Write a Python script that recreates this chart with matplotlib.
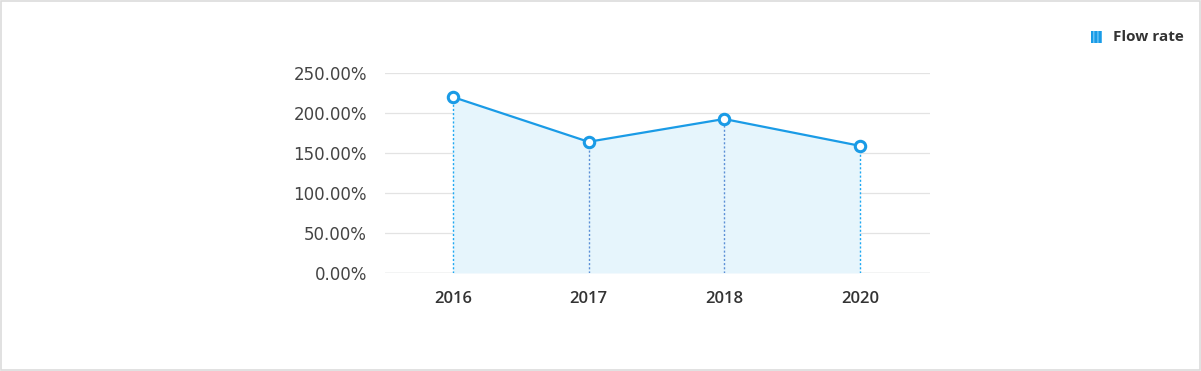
import matplotlib
matplotlib.use("Agg")
import matplotlib.pyplot as plt
from matplotlib.patches import Rectangle

years = ["2016", "2017", "2018", "2020"]
flow_rate = [220.0, 164.0, 192.5, 159.0]
y_ticks = [0, 50, 100, 150, 200, 250]
y_tick_labels = ["0.00%", "50.00%", "100.00%", "150.00%", "200.00%", "250.00%"]

LINE = "#1a9be6"
FILL = "#e6f5fc"

fig = plt.figure(figsize=(12.01, 3.71), dpi=100)
fig.patch.set_facecolor("white")
fig.add_artist(Rectangle((0.0008, 0.003), 0.998, 0.994, transform=fig.transFigure,
                         fill=False, edgecolor="#dcdcdc", linewidth=1.2))

ax = fig.add_axes([385/1201, 98/371, 545/1201, 200/371])
x = list(range(len(years)))
ax.set_xlim(-0.5, len(years) - 0.483)
ax.set_ylim(0, 250)

ax.fill_between(x, 0, flow_rate, color=FILL, zorder=1, linewidth=0)
for i, v in enumerate(flow_rate):
    c = "#1ea8f2" if i in (0, len(years) - 1) else "#5b8fd6"
    ax.plot([i, i], [0, v], linestyle=(0, (1.5, 1.5)), color=c, linewidth=1.0, zorder=2)
ax.plot(x, flow_rate, color=LINE, linewidth=1.6, zorder=3,
        marker="o", markersize=7.5, markerfacecolor="white",
        markeredgecolor=LINE, markeredgewidth=2.2)

ax.set_yticks(y_ticks)
ax.set_yticklabels(y_tick_labels, fontfamily="DejaVu Sans", fontsize=12, color="#444444")
ax.set_xticks(x)
ax.set_xticklabels(years, fontfamily="Open Sans", fontweight="semibold", fontsize=12, color="#333333")
ax.tick_params(axis="both", length=0)
ax.tick_params(axis="y", pad=13)
ax.tick_params(axis="x", pad=13)
ax.grid(axis="y", color="#e3e3e3", linewidth=0.9, zorder=0)
ax.set_axisbelow(True)
for s in ax.spines.values():
    s.set_visible(False)
ax.axhline(0, color="#d5d8db", linewidth=1.0, zorder=0.5)

fig.add_artist(Rectangle((1091/1201, 1 - 43/371), 11/1201, 12/371, transform=fig.transFigure,
                         facecolor="#1a9be6", edgecolor="#6cc4f5", hatch="||||", linewidth=0))
fig.text(1113/1201, 1 - 37/371, "Flow rate", fontfamily="Open Sans", fontweight="bold",
         fontsize=11, color="#333333", va="center", ha="left")

fig.savefig("out.png", dpi=100)
